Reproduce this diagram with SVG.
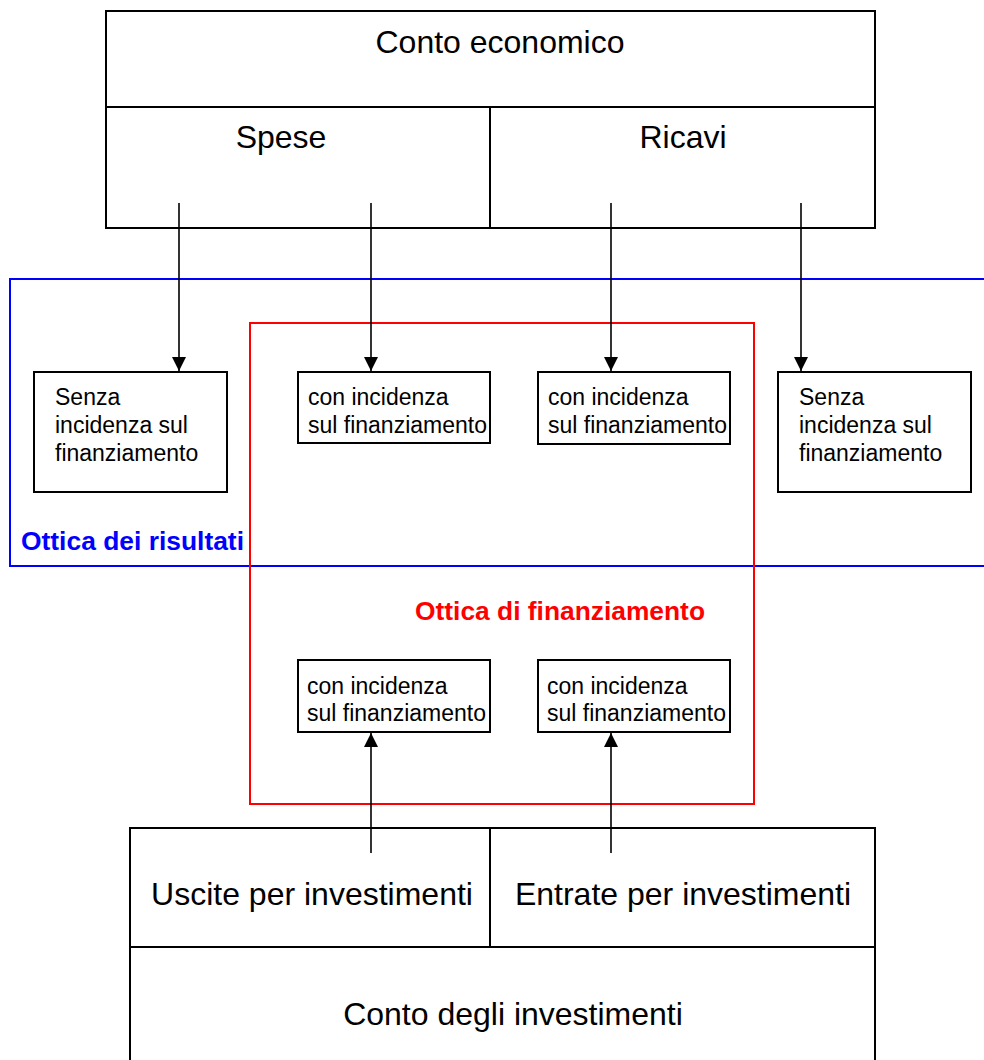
<svg xmlns="http://www.w3.org/2000/svg" width="984" height="1060" viewBox="0 0 984 1060">
<style>
.box{fill:#fff;stroke:#000;stroke-width:2}
.ln{fill:none;stroke:#000;stroke-width:2}
.t{font-family:"Liberation Sans",Arial,sans-serif;fill:#000}
.big{font-size:32px}
.sm{font-size:23px}
.lbl{font-family:"Liberation Sans",Arial,sans-serif;font-weight:bold;font-size:25px}
.con{fill:none;stroke:#000;stroke-width:1.6}
</style>
<defs>
<marker id="ah" viewBox="0 0 14 14" refX="14" refY="7" markerWidth="14" markerHeight="14" markerUnits="userSpaceOnUse" orient="auto">
<path d="M0,0 L14,7 L0,14 Z" fill="#000"/>
</marker>
</defs>
<rect width="984" height="1060" fill="#fff"/>
<g id="ottica-risultati">
<rect x="10" y="279" width="990" height="287" fill="none" stroke="#0000ff" stroke-width="2"/>
<text class="lbl" x="21" y="550" fill="#0000ff" textLength="223" lengthAdjust="spacingAndGlyphs">Ottica dei risultati</text>
</g>
<g id="ottica-finanziamento">
<rect x="250" y="323" width="504" height="481" fill="none" stroke="#ff0000" stroke-width="2"/>
<text class="lbl" x="415" y="620" fill="#ff0000" textLength="290" lengthAdjust="spacingAndGlyphs">Ottica di finanziamento</text>
</g>
<g id="conto-economico">
<rect class="box" x="106" y="11" width="769" height="217"/>
<line class="ln" x1="106" y1="107" x2="875" y2="107"/>
<line class="ln" x1="490" y1="107" x2="490" y2="228"/>
<text class="t big" x="500" y="53" text-anchor="middle">Conto economico</text>
<text class="t big" x="281" y="148" text-anchor="middle">Spese</text>
<text class="t big" x="683" y="148" text-anchor="middle">Ricavi</text>
</g>
<g id="conto-investimenti">
<rect class="box" x="130" y="828" width="745" height="250"/>
<line class="ln" x1="130" y1="947" x2="875" y2="947"/>
<line class="ln" x1="490" y1="828" x2="490" y2="947"/>
<text class="t big" x="312" y="905" text-anchor="middle">Uscite per investimenti</text>
<text class="t big" x="683" y="905" text-anchor="middle">Entrate per investimenti</text>
<text class="t big" x="513" y="1025" text-anchor="middle">Conto degli investimenti</text>
</g>
<g id="senza-sx">
<rect class="box" x="34" y="372" width="193" height="120"/>
<text class="t sm" x="55" y="405">Senza</text>
<text class="t sm" x="55" y="433">incidenza sul</text>
<text class="t sm" x="55" y="461">finanziamento</text>
</g>
<g id="con-spese">
<rect class="box" x="298" y="372" width="192" height="71"/>
<text class="t sm" x="308" y="405">con incidenza</text>
<text class="t sm" x="308" y="433">sul finanziamento</text>
</g>
<g id="con-ricavi">
<rect class="box" x="538" y="372" width="192" height="72"/>
<text class="t sm" x="548" y="405">con incidenza</text>
<text class="t sm" x="548" y="433">sul finanziamento</text>
</g>
<g id="senza-dx">
<rect class="box" x="778" y="372" width="193" height="120"/>
<text class="t sm" x="799" y="405">Senza</text>
<text class="t sm" x="799" y="433">incidenza sul</text>
<text class="t sm" x="799" y="461">finanziamento</text>
</g>
<g id="con-uscite">
<rect class="box" x="298" y="660" width="192" height="72"/>
<text class="t sm" x="307" y="694">con incidenza</text>
<text class="t sm" x="307" y="721">sul finanziamento</text>
</g>
<g id="con-entrate">
<rect class="box" x="538" y="660" width="192" height="72"/>
<text class="t sm" x="547" y="694">con incidenza</text>
<text class="t sm" x="547" y="721">sul finanziamento</text>
</g>
<g id="connectors">
<line class="con" x1="179" y1="203" x2="179" y2="371" marker-end="url(#ah)"/>
<line class="con" x1="371" y1="203" x2="371" y2="371" marker-end="url(#ah)"/>
<line class="con" x1="611" y1="203" x2="611" y2="371" marker-end="url(#ah)"/>
<line class="con" x1="801" y1="203" x2="801" y2="371" marker-end="url(#ah)"/>
<line class="con" x1="371" y1="853" x2="371" y2="733" marker-end="url(#ah)"/>
<line class="con" x1="611" y1="853" x2="611" y2="733" marker-end="url(#ah)"/>
</g>
</svg>
